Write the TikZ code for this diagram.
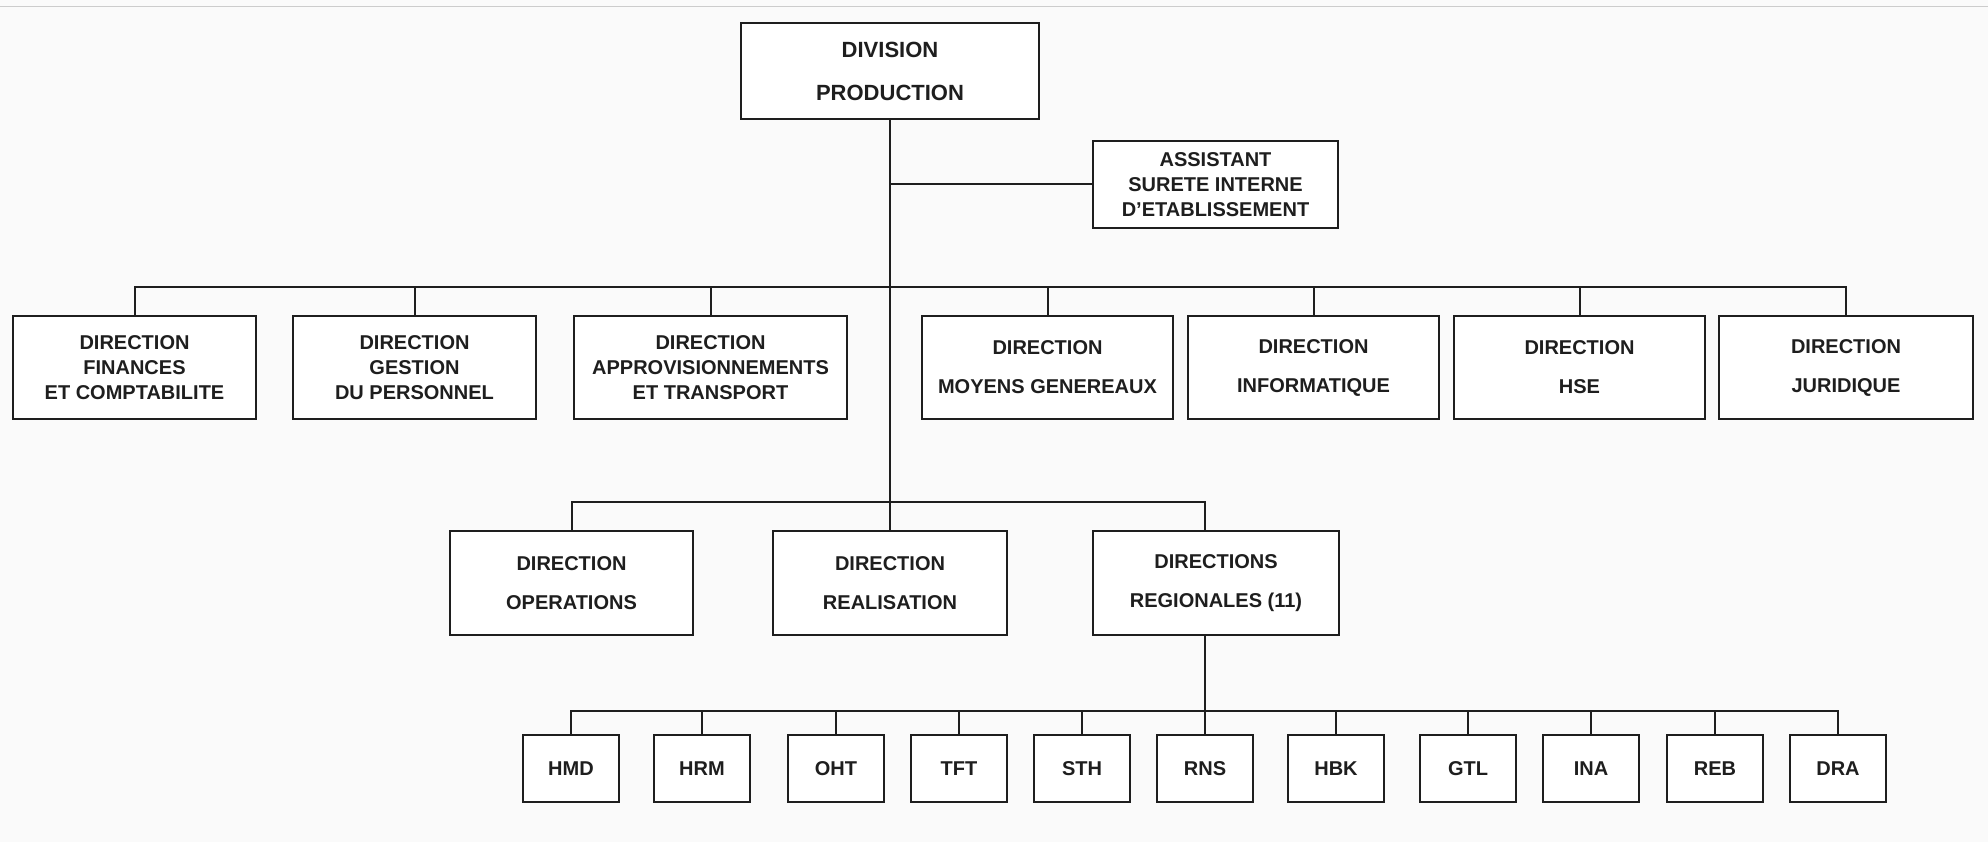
\documentclass[tikz,border=0pt]{standalone}
\usepackage{fontspec}
\setmainfont{Liberation Sans}
\definecolor{paper}{RGB}{250,250,250}
\definecolor{ink}{RGB}{30,30,30}
\tikzset{
  orgbox/.style={draw=ink, line width=2pt, fill=white, inner sep=0pt, align=center,
    text=ink, font=\fontsize{20}{25}\selectfont\bfseries},
  bigbox/.style={orgbox, font=\fontsize{22}{27}\selectfont\bfseries},
  smallbox/.style={orgbox, minimum width=96pt, minimum height=67pt},
  link/.style={draw=ink, line width=2pt}
}
\begin{document}
\begin{tikzpicture}[x=1pt,y=-1pt]
\fill[paper] (0,0) rectangle (1988,842);
\useasboundingbox (0,0) rectangle (1988,842);
\draw[gray!40, line width=1pt] (0,7) -- (1988,7);

% top
\node[bigbox, minimum width=298pt, minimum height=96pt] (div) at (890,71) {DIVISION\\[16pt]PRODUCTION};
\node[orgbox, minimum width=245pt, minimum height=87pt] (asst) at (1215.5,184.5) {ASSISTANT\\SURETE INTERNE\\D'ETABLISSEMENT};

% row 1
\node[orgbox, minimum width=243pt, minimum height=103pt] (fin) at (134.5,367.5) {DIRECTION\\FINANCES\\ET COMPTABILITE};
\node[orgbox, minimum width=243pt, minimum height=103pt] (ges) at (414.5,367.5) {DIRECTION\\GESTION\\DU PERSONNEL};
\node[orgbox, minimum width=273pt, minimum height=103pt] (app) at (710.5,367.5) {DIRECTION\\APPROVISIONNEMENTS\\ET TRANSPORT};
\node[orgbox, minimum width=251pt, minimum height=103pt] (moy) at (1047.5,367.5) {DIRECTION\\[14pt]MOYENS GENEREAUX};
\node[orgbox, minimum width=251pt, minimum height=103pt] (inf) at (1313.5,367.5) {DIRECTION\\[14pt]INFORMATIQUE};
\node[orgbox, minimum width=251pt, minimum height=103pt] (hse) at (1579.5,367.5) {DIRECTION\\[14pt]HSE};
\node[orgbox, minimum width=254pt, minimum height=103pt] (jur) at (1846,367.5) {DIRECTION\\[14pt]JURIDIQUE};

% row 2
\node[orgbox, minimum width=243pt, minimum height=104pt] (ops) at (571.5,583) {DIRECTION\\[14pt]OPERATIONS};
\node[orgbox, minimum width=234pt, minimum height=104pt] (real) at (890,583) {DIRECTION\\[14pt]REALISATION};
\node[orgbox, minimum width=246pt, minimum height=104pt] (reg) at (1216,583) {DIRECTIONS\\[14pt]REGIONALES (11)};

% row 3
\node[smallbox] (hmd) at (571,768.5) {HMD};
\node[smallbox] (hrm) at (702,768.5) {HRM};
\node[smallbox] (oht) at (836,768.5) {OHT};
\node[smallbox] (tft) at (959,768.5) {TFT};
\node[smallbox] (sth) at (1082,768.5) {STH};
\node[smallbox] (rns) at (1205,768.5) {RNS};
\node[smallbox] (hbk) at (1336,768.5) {HBK};
\node[smallbox] (gtl) at (1468,768.5) {GTL};
\node[smallbox] (ina) at (1591,768.5) {INA};
\node[smallbox] (reb) at (1715,768.5) {REB};
\node[smallbox] (dra) at (1838,768.5) {DRA};

% bus coordinates
\coordinate (bus1) at (0,287);
\coordinate (bus2) at (0,502);
\coordinate (bus3) at (0,711);

% connectors
\draw[link] (div.south) -- (real.north);
\draw[link] (asst.west) -- (asst.west -| div.south);

\draw[link] (fin.north) |- (jur.north |- bus1) -- (jur.north);
\foreach \n in {ges,app,moy,inf,hse}
  \draw[link] (\n.north) -- (\n.north |- bus1);

\draw[link] (ops.north) |- (rns.north |- bus2) -- (rns.north |- reg.north);

\draw[link] (rns.north |- reg.south) -- (rns.north);
\draw[link] (hmd.north) |- (dra.north |- bus3) -- (dra.north);
\foreach \n in {hrm,oht,tft,sth,hbk,gtl,ina,reb}
  \draw[link] (\n.north) -- (\n.north |- bus3);
\end{tikzpicture}
\end{document}
